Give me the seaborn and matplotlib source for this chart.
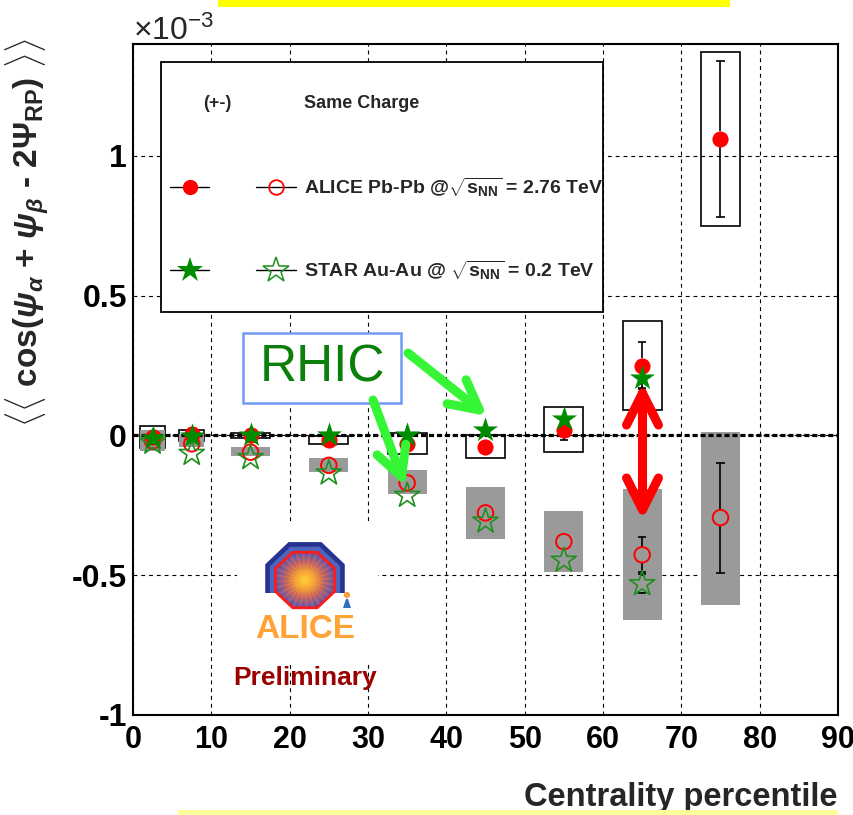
import numpy as np
import pandas as pd
import matplotlib
matplotlib.use("Agg")
import matplotlib.pyplot as plt
import seaborn as sns
from matplotlib.patches import Rectangle, Polygon, FancyArrowPatch, Circle
from matplotlib.colors import LinearSegmentedColormap

# ---------------- data (values in units of 1e-3) ----------------
centrality = [2.5, 7.5, 15, 25, 35, 45, 55, 65, 75]

alice_os = [-0.005, 0.005, 0.0, -0.015, -0.03, -0.04, 0.02, 0.25, 1.06]
alice_os_stat = [0.01, 0.01, 0.01, 0.01, 0.015, 0.015, 0.035, 0.083, 0.28]
alice_os_sys_lo = [-0.045, -0.02, -0.01, -0.03, -0.065, -0.08, -0.06, 0.09, 0.75]
alice_os_sys_hi = [0.035, 0.02, 0.007, -0.003, 0.01, 0.0, 0.10, 0.41, 1.37]

alice_ss = [-0.02, -0.03, -0.06, -0.107, -0.17, -0.277, -0.38, -0.427, -0.294]
alice_ss_stat = [0.01, 0.01, 0.01, 0.01, 0.015, 0.02, 0.025, 0.062, 0.197]
alice_ss_sys_lo = [-0.057, -0.043, -0.072, -0.13, -0.21, -0.37, -0.49, -0.66, -0.606]
alice_ss_sys_hi = [0.018, 0.005, -0.043, -0.08, -0.125, -0.185, -0.27, -0.19, 0.014]

star_centrality = [2.5, 7.5, 15, 25, 35, 45, 55, 65]
star_os = [-0.01, -0.003, 0.0, 0.0, 0.0, 0.018, 0.06, 0.207]
star_os_stat = [0.01, 0.01, 0.01, 0.01, 0.01, 0.01, 0.015, 0.037]
star_ss = [-0.025, -0.065, -0.08, -0.135, -0.215, -0.307, -0.447, -0.531]
star_ss_stat = [0.01, 0.01, 0.01, 0.01, 0.01, 0.015, 0.02, 0.034]

x_ticks = [0, 10, 20, 30, 40, 50, 60, 70, 80, 90]
y_ticks = [-1, -0.5, 0, 0.5, 1]
y_tick_labels = ["-1", "-0.5", "0", "0.5", "1"]

# ---------------- style ----------------
box_halfwidth = np.array([1.6, 1.6, 2.5, 2.5, 2.5, 2.5, 2.5, 2.5, 2.5])
RED = "#ff0000"
GREEN = "#008c00"
GREY = "#9a9a9a"

sns.set_style("white")
plt.rcParams.update({
    "font.family": ["Liberation Sans", "DejaVu Sans"],
    "font.weight": "bold",
    "axes.unicode_minus": False,
    "mathtext.fontset": "custom",
    "mathtext.rm": "Liberation Sans:bold",
    "mathtext.bf": "Liberation Sans:bold",
    "mathtext.it": "Liberation Sans:italic:bold",
    "mathtext.sf": "Liberation Sans:bold",
})

W, H = 854, 815
fig = plt.figure(figsize=(W / 100, H / 100), dpi=100)
fig.patch.set_facecolor("white")
AX_L, AX_R, AX_T, AX_B = 133, 838, 44, 715
ax = fig.add_axes([AX_L / W, 1 - AX_B / H, (AX_R - AX_L) / W, (AX_B - AX_T) / H])
ax.set_xlim(0, 90)
ax.set_ylim(-1, 1.4)

# grid, frame, ticks
ax.set_axisbelow(True)
ax.grid(True, color="k", lw=0.8, ls=(0, (3.5, 3.5)))
for s in ax.spines.values():
    s.set_color("k")
    s.set_linewidth(1.5)
ax.set_xticks(x_ticks)
ax.set_yticks(y_ticks)
ax.set_yticklabels(y_tick_labels)
ax.tick_params(axis="x", direction="in", length=14.5, width=1.2, pad=7, labelsize=22, colors="k")
ax.tick_params(axis="y", direction="in", length=15.5, width=1.2, pad=4.5, labelsize=23, colors="k")

# zero line
ax.axhline(0, color="k", lw=2.3, ls=(0, (1.6, 0.9)), zorder=3)

# systematic boxes
x_arr = np.asarray(centrality, dtype=float)
for xc, hw, lo, hi in zip(x_arr, box_halfwidth, alice_os_sys_lo, alice_os_sys_hi):
    ax.add_patch(Rectangle((xc - hw, lo), 2 * hw, hi - lo, fill=False, ec="k", lw=1.2, zorder=2.4))
for xc, hw, lo, hi in zip(x_arr, box_halfwidth, alice_ss_sys_lo, alice_ss_sys_hi):
    ax.add_patch(Rectangle((xc - hw, lo), 2 * hw, hi - lo, fc=GREY, ec="none", zorder=2.6))

# statistical error bars drawn outside the marker
px_per_y = (AX_B - AX_T) / 2.4
px_per_x = (AX_R - AX_L) / 90.0
r_marker = 8.0 / px_per_y
cap = 4.0 / px_per_x


def stat_bars(xs, ys, errs):
    xs, ys, errs = map(np.asarray, (xs, ys, errs))
    m = errs > r_marker
    xs, ys, errs = xs[m], ys[m], errs[m]
    ax.vlines(xs, ys + r_marker, ys + errs, color="k", lw=1.2, zorder=4)
    ax.vlines(xs, ys - errs, ys - r_marker, color="k", lw=1.2, zorder=4)
    ax.hlines(np.r_[ys + errs, ys - errs], np.r_[xs, xs] - cap, np.r_[xs, xs] + cap,
              color="k", lw=1.2, zorder=4)


stat_bars(centrality, alice_os, alice_os_stat)
stat_bars(centrality, alice_ss, alice_ss_stat)
stat_bars(star_centrality, star_os, star_os_stat)
stat_bars(star_centrality, star_ss, star_ss_stat)

# markers
alice_df = pd.DataFrame({"centrality": centrality, "opposite": alice_os, "same": alice_ss})
star_df = pd.DataFrame({"centrality": star_centrality, "opposite": star_os, "same": star_ss})

sns.scatterplot(data=alice_df, x="centrality", y="same", marker="o", s=125, ax=ax, zorder=5)
c = ax.collections[-1]
c.set_facecolor("none"); c.set_edgecolor(RED); c.set_linewidth(1.4)

sns.scatterplot(data=alice_df, x="centrality", y="opposite", marker="o", s=135, color=RED,
                linewidth=0, ax=ax, zorder=5)

sns.scatterplot(data=star_df, x="centrality", y="same", marker="*", s=360, ax=ax, zorder=6)
c = ax.collections[-1]
c.set_facecolor("none"); c.set_edgecolor("#1f8f1f"); c.set_linewidth(1.2)

sns.scatterplot(data=star_df, x="centrality", y="opposite", marker="*", s=360, color=GREEN,
                linewidth=0, ax=ax, zorder=6)

ax.set_xlabel("")
ax.set_ylabel("")


def fx(px):
    return (px - AX_L) / (AX_R - AX_L)


def fy(py):
    return (AX_B - py) / (AX_B - AX_T)


# legend box
ax.add_patch(Rectangle((fx(161), fy(312)), fx(603) - fx(161), fy(62) - fy(312),
                       transform=ax.transAxes, fc="white", ec="k", lw=1.3, zorder=7))
ax.text(fx(217), fy(103), "(+-)", transform=ax.transAxes, ha="center", va="center",
        fontsize=13, zorder=8)
ax.text(fx(304), fy(103), "Same Charge", transform=ax.transAxes, ha="left", va="center",
        fontsize=13, zorder=8)
legend_rows = [
    (187, dict(marker="o", ms=11, mfc=RED, mec=RED, mew=0),
     dict(marker="o", ms=10.5, mfc="none", mec=RED, mew=1.3),
     r"ALICE Pb-Pb @$\sqrt{\mathregular{s}_{\mathregular{NN}}}$ = 2.76 TeV"),
    (270, dict(marker="*", ms=19, mfc=GREEN, mec=GREEN, mew=0),
     dict(marker="*", ms=19, mfc="none", mec="#1f8f1f", mew=1.1),
     r"STAR Au-Au @ $\sqrt{\mathregular{s}_{\mathregular{NN}}}$ = 0.2 TeV"),
]
for py, filled, hollow, label in legend_rows:
    for (l, rgt, mk), kw in zip([(170, 209, 190), (256, 296, 276)], [filled, hollow]):
        ax.plot([fx(l), fx(rgt)], [fy(py), fy(py)], color="k", lw=1.0,
                transform=ax.transAxes, zorder=8)
        ax.plot([fx(mk)], [fy(py)], ls="none", transform=ax.transAxes, zorder=9, **kw)
    ax.text(fx(304), fy(py), label, transform=ax.transAxes, ha="left", va="center",
            fontsize=14, zorder=8)

# RHIC label
ax.add_patch(Rectangle((fx(243), fy(403)), fx(401) - fx(243), fy(333) - fy(403),
                       transform=ax.transAxes, fc="white", ec="#6f9cf5", lw=1.8, zorder=7))
ax.text(fx(322), fy(368), "RHIC", transform=ax.transAxes, ha="center", va="center",
        fontsize=37, fontweight="normal", color="#0a800a", zorder=8)

# arrows
for (x0, y0), (x1, y1) in [((408, 353), (487, 416)), ((373, 400), (405, 486))]:
    ax.add_patch(FancyArrowPatch((fx(x0), fy(y0)), (fx(x1), fy(y1)), transform=ax.transAxes,
                                 arrowstyle="->,head_length=21,head_width=11",
                                 color="#36f536", lw=6.5, capstyle="round", joinstyle="round",
                                 shrinkA=0, shrinkB=0, zorder=9))
ax.add_patch(FancyArrowPatch((fx(642.5), fy(383)), (fx(642.5), fy(520)), transform=ax.transAxes,
                             arrowstyle="<->,head_length=23,head_width=11.5",
                             color=RED, lw=6.5, capstyle="round", joinstyle="round",
                             shrinkA=0, shrinkB=0, zorder=9))

ax.text(fx(305), fy(678), "Preliminary", transform=ax.transAxes, ha="center", va="center",
        fontsize=19, color="#990000", zorder=8)

# experiment logo
LX0, LY0, LW, LH = 237, 523, 141, 139
logo = fig.add_axes([LX0 / W, 1 - (LY0 + LH) / H, LW / W, LH / H], zorder=2)
logo.set_facecolor("white")
logo.set_xticks([]); logo.set_yticks([])
for s in logo.spines.values():
    s.set_visible(False)
logo.set_xlim(0, LW)
logo.set_ylim(LH, 0)


def octagon(cx, cy, rx, ry):
    ang = np.deg2rad(22.5 + 45 * np.arange(8))
    return np.c_[cx + rx * np.cos(ang), cy - ry * np.sin(ang)]


cx, cy = 68, 57
k = 1 / np.cos(np.deg2rad(22.5))
clip = Rectangle((0, 0), LW, 70, transform=logo.transData)
for rx, ry, col in [(43, 41, "#26338f"), (38, 36, "#4d66bd")]:
    p = Polygon(octagon(cx, cy, rx * k * 0.925, ry * k * 0.925), closed=True, fc=col,
                ec="none", zorder=1)
    logo.add_patch(p)
    p.set_clip_path(clip)
inner = Polygon(octagon(cx, cy, 32 * k * 0.925, 30 * k * 0.925), closed=True, fc="none",
                ec="#ff1a1a", lw=2.0, zorder=3)
logo.add_patch(inner)
gx, gy = np.meshgrid(np.linspace(-1, 1, 200), np.linspace(-1, 1, 200))
rr = np.hypot(gx, gy)
th = np.arctan2(gy, gx)
val = np.clip(rr + 0.12 * np.sin(28 * th) * rr, 0, 1.2)
cmap = LinearSegmentedColormap.from_list(
    "burst", ["#ffd23a", "#f7a335", "#c9655e", "#6a5aa8", "#3a3f9a"])
im = logo.imshow(val, extent=(cx - 32, cx + 32, cy + 30, cy - 30), cmap=cmap, vmin=0, vmax=1.2,
                 zorder=2, interpolation="bilinear")
im.set_clip_path(inner)
logo.add_patch(Circle((110, 72), 3.2, fc="#f5a040", ec="none", zorder=4))
logo.add_patch(Polygon([[106, 85], [114, 85], [111, 76], [109, 76]], closed=True,
                       fc="#2f6fc0", ec="none", zorder=4))
logo.text(cx, 106, "ALICE", ha="center", va="center", fontsize=24, fontweight="bold",
          color="#ffa336", zorder=4)

# axis titles
fig.text(AX_R / W, 1 - 806 / H, "Centrality percentile", ha="right", va="baseline",
         fontsize=23.5)
fig.text(27 / W, 1 - 232 / H,
         r"$\langle\langle$ cos($\psi_{\alpha}$ + $\psi_{\beta}$ - 2$\Psi_{\mathregular{RP}}$) $\rangle\rangle$",
         rotation=90, ha="center", va="center", fontsize=24)
fig.text(AX_L / W, 1 - 40 / H, r"×10$^{\mathregular{-3}}$", ha="left", va="baseline",
         fontsize=23, fontweight="normal")

# decorative strips
fig.patches.append(Rectangle((218 / W, 1 - 7 / H), 512 / W, 7 / H, transform=fig.transFigure,
                             fc="#ffff00", ec="none", zorder=10))
fig.patches.append(Rectangle((178 / W, 0), 660 / W, 5 / H, transform=fig.transFigure,
                             fc="#ffff99", ec="none", zorder=10))

fig.savefig("out.png", dpi=100)
